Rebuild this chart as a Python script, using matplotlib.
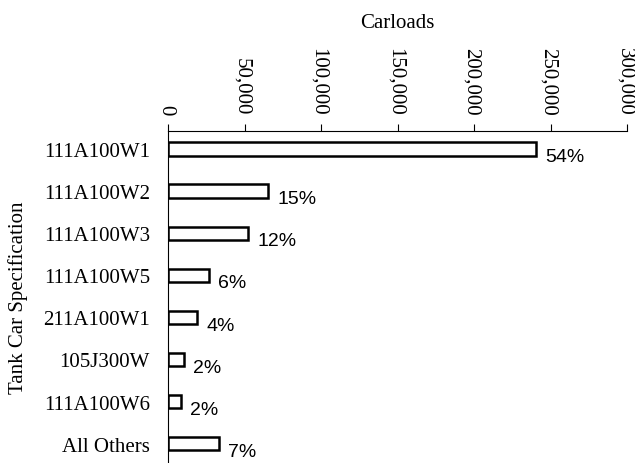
import matplotlib
matplotlib.use('Agg')
import matplotlib.pyplot as plt
from matplotlib.ticker import FuncFormatter


specs = ['111A100W1', '111A100W2', '111A100W3', '111A100W5',
         '211A100W1', '105J300W', '111A100W6', 'All Others']
carloads = [240500, 65400, 52300, 26800, 19000, 10500, 8500, 33300]
shares = ['54%', '15%', '12%', '6%', '4%', '2%', '2%', '7%']
x_ticks = [0, 50000, 100000, 150000, 200000, 250000, 300000]


plt.rcParams['font.family'] = ['Liberation Serif', 'DejaVu Serif']

fig = plt.figure(figsize=(6.35, 4.64), dpi=100)
ax = fig.add_axes([168 / 635, 0.0, 459 / 635, 332 / 464])

pos = list(range(len(specs)))
ax.barh(pos, carloads, height=0.32, color='white', edgecolor='black',
        linewidth=1.8)

for p, v, s in zip(pos, carloads, shares):
    ax.annotate(s, (v, p), xytext=(6.5, -5.5), textcoords='offset points',
                ha='left', va='center', fontsize=14,
                family=['Liberation Sans', 'DejaVu Sans'])

ax.set_xlim(0, 300000)
ax.set_ylim(7.46, -0.43)
ax.set_yticks(pos)
ax.set_yticklabels(specs, fontsize=15)
ax.tick_params(axis='y', length=0, pad=13)

ax.xaxis.tick_top()
ax.set_xticks(x_ticks)
ax.xaxis.set_major_formatter(FuncFormatter(lambda v, _: '{:,.0f}'.format(v)))
ax.tick_params(axis='x', length=5, width=0.8, pad=7, labelsize=15)
for lbl in ax.get_xticklabels():
    lbl.set_rotation(-90)
    lbl.set_rotation_mode('anchor')
    lbl.set_ha('right')
    lbl.set_va('center_baseline')

for side in ['right', 'bottom']:
    ax.spines[side].set_visible(False)
for side in ['top', 'left']:
    ax.spines[side].set_linewidth(0.8)

fig.text(397 / 635, 1 - 23 / 464, 'Carloads', ha='center', va='center',
         fontsize=15)
fig.text(18 / 635, 1 - 298 / 464, 'Tank Car Specification', rotation=90,
         ha='center', va='center', fontsize=15)

fig.savefig('out.png', dpi=100)
